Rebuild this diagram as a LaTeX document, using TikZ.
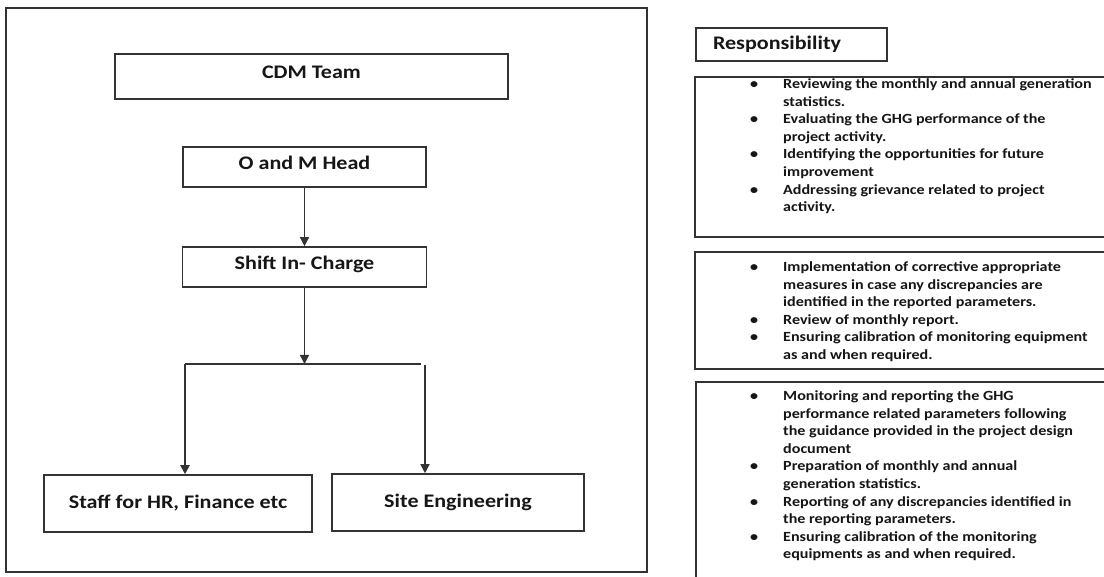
\documentclass[tikz,border=0pt]{standalone}
\usepackage{fontspec}
\setmainfont[FakeStretch=1.15]{Carlito}
\usetikzlibrary{arrows.meta}
\definecolor{linec}{HTML}{333333}
\definecolor{txtc}{HTML}{161616}
\newcommand\liftt[2]{\raisebox{#1}[\height][\depth]{#2}}
\begin{document}
\begin{tikzpicture}[x=1pt,y=-1pt,
  box/.style={draw=linec, line width=1.6pt, rectangle, inner sep=0pt, text=txtc,
              font=\fontsize{19.2}{22}\selectfont\bfseries},
  rbox/.style={draw=linec, line width=1.6pt, rectangle, inner sep=0pt},
  arr/.style={draw=linec, line width=1.3pt, -{Triangle[length=9pt,width=9pt]}},
  conn/.style={draw=linec, line width=1.3pt},
  body/.style={anchor=base west, inner sep=0pt, text=txtc,
               font=\fontsize{14}{17.6}\selectfont\bfseries}]
\clip (0,0) rectangle (1104,577);
\fill[white] (0,0) rectangle (1104,577);
% outer frame
\draw[linec, line width=2pt] (6,8) rectangle (647,572);
% left chart
\node[box, minimum width=393pt, minimum height=45pt] (cdm) at (311.5,76.5) {\liftt{4.5pt}{CDM Team}};
\node[box, minimum width=243pt, minimum height=40pt] (om) at (304.5,167) {\liftt{4pt}{O and M Head}};
\node[box, minimum width=244pt, minimum height=40pt] (shift) at (304.5,267) {\liftt{3pt}{Shift In- Charge}};
\node[box, minimum width=268pt, minimum height=57pt] (staff) at (178,503.5) {Staff for HR, Finance etc};
\node[box, minimum width=252pt, minimum height=57pt] (site) at (458,502.5) {Site Engineering};
\coordinate (jm) at (304.5,364);
\coordinate (jl) at (185,364);
\coordinate (jr) at (421,364);
\coordinate (rt) at (425,365);
\draw[arr] (om.south) -- (shift.north);
\draw[arr] (shift.south) -- (jm);
\draw[conn] (jl) -- (jr);
\draw[arr, line width=2pt] (jl) -- (jl |- staff.north);
\draw[arr] (rt) -- (rt |- site.north);
% right panel
\node[rbox, minimum width=191pt, minimum height=33pt, text width=157pt, inner xsep=17pt,
      align=left, text=txtc, font=\fontsize{19.2}{22}\selectfont\bfseries]
      (resp) at (791.5,44.5) {Responsibility};
\node[rbox, minimum width=430pt, minimum height=160pt] (r1) at (910,157) {};
\node[rbox, minimum width=430pt, minimum height=117pt] (r2) at (910,310.5) {};
\node[rbox, minimum width=430pt, minimum height=210pt] (r3) at (911,487) {};
\node[body] (t1) at (750,88.5) {\begin{tabular}[t]{@{}p{33pt}@{}l@{}}
\textbullet & Reviewing the monthly and annual generation\\
 & statistics.\\
\textbullet & Evaluating the GHG performance of the\\
 & project activity.\\
\textbullet & Identifying the opportunities for future\\
 & improvement\\
\textbullet & Addressing grievance related to project\\
 & activity.
\end{tabular}};
\node[body] (t2) at (750,271.5) {\begin{tabular}[t]{@{}p{33pt}@{}l@{}}
\textbullet & Implementation of corrective appropriate\\
 & measures in case any discrepancies are\\
 & identified in the reported parameters.\\
\textbullet & Review of monthly report.\\
\textbullet & Ensuring calibration of monitoring equipment\\
 & as and when required.
\end{tabular}};
\node[body] (t3) at (750,400.5) {\begin{tabular}[t]{@{}p{33pt}@{}l@{}}
\textbullet & Monitoring and reporting the GHG\\
 & performance related parameters following\\
 & the guidance provided in the project design\\
 & document\\
\textbullet & Preparation of monthly and annual\\
 & generation statistics.\\
\textbullet & Reporting of any discrepancies identified in\\
 & the reporting parameters.\\
\textbullet & Ensuring calibration of the monitoring\\
 & equipments as and when required.
\end{tabular}};
\end{tikzpicture}
\end{document}
